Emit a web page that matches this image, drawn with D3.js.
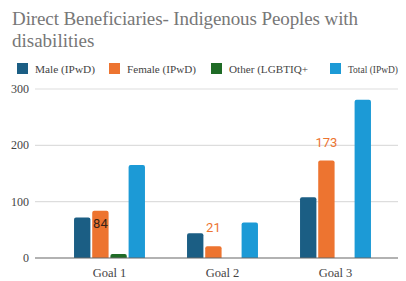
<!DOCTYPE html>
<html>
<head>
<meta charset="utf-8">
<script src="https://cdn.jsdelivr.net/npm/d3@7"></script>
<style>
  body { margin: 0; background: #fff; }
  svg { display: block; }
  .serif { font-family: "Liberation Serif", "Times New Roman", "DejaVu Serif", Lato, serif; }
</style>
</head>
<body>
<svg id="chart" width="406" height="281"></svg>
<script>
const goals = ["Goal 1", "Goal 2", "Goal 3"];
const seriesNames = ["Male (IPwD)", "Female (IPwD)", "Other (LGBTIQ+", "Total (IPwD)"];
const male = [72, 44, 108];
const female = [84, 21, 173];
const other = [7, 0, 0];
const total = [165, 63, 281];
const yTicks = [0, 100, 200, 300];
const colors = ["#1b5e84", "#ed7430", "#1f6b26", "#1c9ad6"];

const svg = d3.select("#chart");

// title
svg.append("text").attr("class", "serif").attr("x", 12).attr("y", 25)
    .attr("font-size", 19).attr("fill", "#777")
    .attr("textLength", 346).attr("lengthAdjust", "spacing")
    .text("Direct Beneficiaries- Indigenous Peoples with");
svg.append("text").attr("class", "serif").attr("x", 12).attr("y", 47)
    .attr("font-size", 19).attr("fill", "#777")
    .text("disabilities");

// legend
const legendX = [17, 109, 211, 330];
const legendW = [60, 69, 79, 50];
seriesNames.forEach((name, i) => {
    svg.append("rect").attr("x", legendX[i]).attr("y", 63).attr("width", 11).attr("height", 11)
        .attr("fill", colors[i]);
    svg.append("text").attr("class", "serif").attr("x", legendX[i] + 18).attr("y", 73)
        .attr("font-size", 11).attr("fill", "#444")
        .attr("textLength", legendW[i]).attr("lengthAdjust", "spacingAndGlyphs")
        .text(name);
});

const y = d3.scaleLinear().domain([0, 300]).range([258, 89]);
const x0 = d3.scaleBand().domain(goals).range([53, 392]).paddingInner(0.34).paddingOuter(0.17);
const x1 = d3.scaleBand().domain(d3.range(4)).range([0, x0.bandwidth()]).padding(0.1);

// gridlines
svg.append("g").selectAll("line").data(yTicks.slice(1)).join("line")
    .attr("x1", 35).attr("x2", 398)
    .attr("y1", d => y(d)).attr("y2", d => y(d))
    .attr("stroke", "#ddd").attr("stroke-width", 1.2);

svg.append("g").selectAll("text").data(yTicks).join("text")
    .attr("class", "serif")
    .attr("x", 29).attr("y", d => y(d) + 4)
    .attr("text-anchor", "end")
    .attr("font-size", 12).attr("fill", "#444")
    .text(d => d);

// bars
const allSeries = [male, female, other, total];
const barData = [];
goals.forEach((g, gi) => {
    allSeries.forEach((s, si) => {
        barData.push({ goal: g, idx: si, value: s[gi] });
    });
});

svg.append("g").selectAll("path").data(barData.filter(d => d.value > 0)).join("path")
    .attr("fill", d => colors[d.idx])
    .attr("d", d => {
        const bx = x0(d.goal) + x1(d.idx);
        const bw = x1.bandwidth();
        const top = y(d.value);
        const bottom = y(0);
        const r = Math.min(2, (bottom - top) / 2);
        return `M${bx},${bottom}V${top + r}Q${bx},${top} ${bx + r},${top}H${bx + bw - r}Q${bx + bw},${top} ${bx + bw},${top + r}V${bottom}Z`;
    });

// axis baseline
svg.append("line").attr("x1", 35).attr("x2", 398).attr("y1", y(0)).attr("y2", y(0))
    .attr("stroke", "#666").attr("stroke-width", 1.2);

// x labels
svg.append("g").selectAll("text").data(goals).join("text")
    .attr("class", "serif")
    .attr("x", d => x0(d) + x0.bandwidth() / 2).attr("y", 277)
    .attr("text-anchor", "middle")
    .attr("font-size", 12.5).attr("fill", "#444")
    .text(d => d);

// data labels on female series
const labelData = [
    { goal: "Goal 1", value: female[0], inside: true },
    { goal: "Goal 2", value: female[1], inside: false },
    { goal: "Goal 3", value: female[2], inside: false }
];
svg.append("g").selectAll("text").data(labelData).join("text")
    .attr("x", d => x0(d.goal) + x1(1) + x1.bandwidth() / 2)
    .attr("y", d => d.inside ? y(d.value) + 17 : y(d.value) - 14)
    .attr("text-anchor", "middle")
    .attr("font-family", "Roboto").attr("font-size", 13)
    .attr("fill", d => d.inside ? "#3a2418" : "#ed7430")
    .text(d => d.value);
</script>
</body>
</html>
